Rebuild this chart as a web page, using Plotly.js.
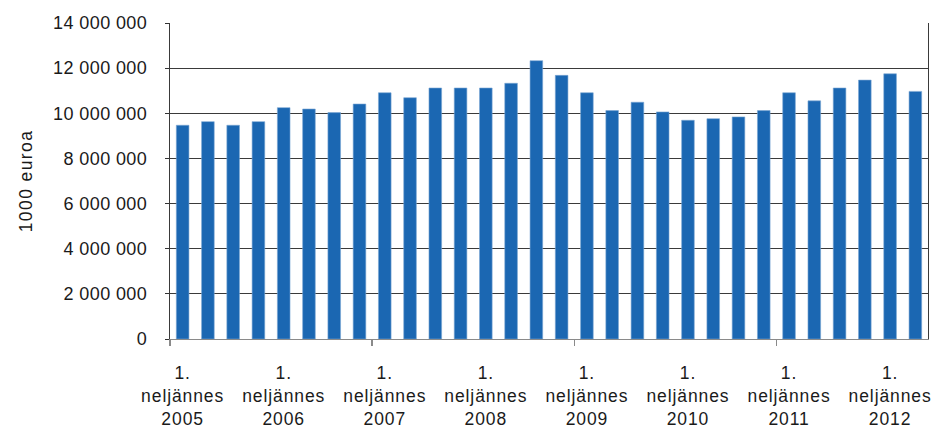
<!DOCTYPE html>
<html>
<head>
<meta charset="utf-8">
<script src="https://cdn.plot.ly/plotly-3.0.1.min.js"></script>
<style>
html,body{margin:0;padding:0;background:#fff;}
#chart{width:938px;height:428px;}
#chart .xtick text{letter-spacing:0.9px;}
#chart .ytick text{letter-spacing:0.4px;}
#chart .ytitle{letter-spacing:1.4px;}
</style>
</head>
<body>
<div id="chart"></div>
<script>
const years = [2005,2005,2005,2005,2006,2006,2006,2006,2007,2007,2007,2007,2008,2008,2008,2008,
               2009,2009,2009,2009,2010,2010,2010,2010,2011,2011,2011,2011,2012,2012];
const quarters = [1,2,3,4,1,2,3,4,1,2,3,4,1,2,3,4,1,2,3,4,1,2,3,4,1,2,3,4,1,2];
const values = [9470000,9630000,9470000,9630000,
                10250000,10190000,10030000,10410000,
                10910000,10690000,11120000,11120000,
                11120000,11330000,12330000,11680000,
                10910000,10120000,10490000,10060000,
                9690000,9760000,9840000,10120000,
                10910000,10550000,11120000,11470000,
                11750000,10970000];
const yTickVals = [0,2000000,4000000,6000000,8000000,10000000,12000000,14000000];
const yTickText = ["0","2 000 000","4 000 000","6 000 000","8 000 000","10 000 000","12 000 000","14 000 000"];
const quarterLabel = "1.<br>neljännes<br>";
const yTitle = "1000 euroa";

const idx = values.map((v,i)=>i);
const xTickVals = idx.filter(i => quarters[i] === 1);
const xTickText = xTickVals.map(i => quarterLabel + years[i]);
const minorVals = idx.filter(i => quarters[i] === 1 && (years[i]-years[0]) % 2 === 0).map(i => i - 0.5);

const font = 'Liberation Sans, Arial, sans-serif';

Plotly.newPlot('chart', [{
  type: 'bar',
  x: idx,
  y: values,
  marker: {color: '#1b67b2', line: {color: '#7aa6d4', width: 0.6}},
  hoverinfo: 'y'
}], {
  width: 938, height: 428,
  margin: {l: 170, r: 10, t: 23, b: 89},
  paper_bgcolor: '#fff', plot_bgcolor: '#fff',
  bargap: 0.5,
  showlegend: false,
  font: {family: font, color: '#1a1a1a', size: 18},
  xaxis: {
    range: [-0.5, values.length - 0.5],
    tickmode: 'array', tickvals: xTickVals, ticktext: xTickText,
    ticks: '', ticklabelstandoff: 18,
    tickfont: {size: 17.5, family: font, color: '#1a1a1a'},
    showgrid: false, zeroline: false,
    showline: true, linecolor: '#8a8a8a', linewidth: 1.3,
    minor: {tickmode: 'array', tickvals: minorVals, ticks: 'outside', ticklen: 6, tickcolor: '#8a8a8a', tickwidth: 1.3, showgrid: false}
  },
  yaxis: {
    range: [0, 14000000],
    tickmode: 'array', tickvals: yTickVals, ticktext: yTickText,
    ticks: 'outside', ticklen: 4, tickcolor: '#333',
    ticklabelstandoff: 14,
    tickfont: {size: 18, family: font, color: '#1a1a1a'},
    showgrid: true, gridcolor: '#3a3a3a', gridwidth: 1.1,
    zeroline: false,
    showline: true, linecolor: '#3a3a3a', linewidth: 1.2, mirror: true,
    title: {text: yTitle, font: {size: 17.5, family: font, color: '#1a1a1a'}, standoff: 20}
  }
}, {displayModeBar: false, staticPlot: true});
</script>
</body>
</html>
